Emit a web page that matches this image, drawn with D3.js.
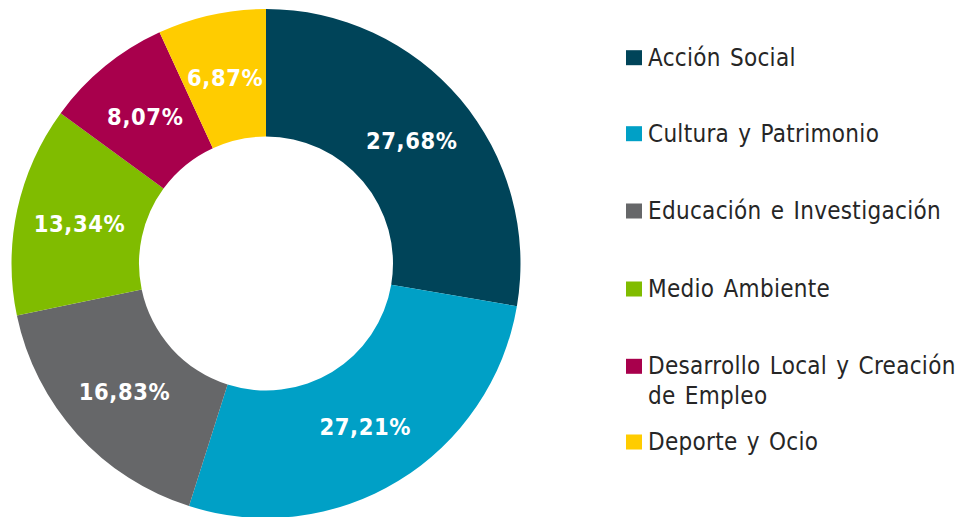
<!DOCTYPE html>
<html>
<head>
<meta charset="utf-8">
<script src="https://cdn.jsdelivr.net/npm/d3@7"></script>
<style>
  body { margin: 0; background: #fff; }
  svg { display: block; }
  .slice-label { font-family: "DejaVu Sans Condensed", "DejaVu Sans", sans-serif; font-stretch: condensed; font-weight: bold; font-size: 23.5px; fill: #fff; letter-spacing: 0.6px; }
  .legend text { font-family: "DejaVu Sans Condensed", "DejaVu Sans", sans-serif; font-stretch: condensed; font-size: 24px; fill: #262626; letter-spacing: 0.3px; word-spacing: 2px; }
</style>
</head>
<body>
<svg id="chart" width="967" height="517"></svg>
<script>
// sectors, clockwise from 12 o'clock
const categories = ["Acción Social", "Cultura y Patrimonio", "Educación e Investigación",
  "Medio Ambiente", "Desarrollo Local y Creación de Empleo", "Deporte y Ocio"];
const shares = [27.68, 27.21, 16.83, 13.34, 8.07, 6.87];
const labels = ["27,68%", "27,21%", "16,83%", "13,34%", "8,07%", "6,87%"];
// legend lines (long name wraps to two lines)
const legendLines = [["Acción Social"], ["Cultura y Patrimonio"], ["Educación e Investigación"],
  ["Medio Ambiente"], ["Desarrollo Local y Creación", "de Empleo"], ["Deporte y Ocio"]];
const colors = ["#004459", "#00a0c6", "#666769", "#80bc00", "#a8004c", "#ffcc00"];

const svg = d3.select("#chart");
const cx = 266, cy = 263.5, outerR = 254.5, innerR = 127;

const data = categories.map((c, i) => ({ name: c, value: shares[i], label: labels[i], color: colors[i] }));

const pie = d3.pie().value(d => d.value).sort(null);
const arc = d3.arc().innerRadius(innerR).outerRadius(outerR);

const g = svg.append("g").attr("transform", `translate(${cx},${cy})`);
const arcs = pie(data);

g.selectAll("path.slice")
  .data(arcs)
  .join("path")
  .attr("class", "slice")
  .attr("d", arc)
  .attr("fill", d => d.data.color);

g.selectAll("text.slice-label")
  .data(arcs)
  .join("text")
  .attr("class", "slice-label")
  .attr("transform", d => `translate(${arc.centroid(d)})`)
  .attr("text-anchor", "middle")
  .attr("dy", "0.38em")
  .text(d => d.data.label);

// legend, baselines
const baselines = [65.7, 141.7, 219, 297, 374.3, 450];
const leg = svg.append("g").attr("class", "legend");
const item = leg.selectAll("g")
  .data(data)
  .join("g")
  .attr("transform", (d, i) => `translate(626,${baselines[i]})`);

item.append("rect")
  .attr("x", 0).attr("y", -15.5)
  .attr("width", 16).attr("height", 15)
  .attr("fill", d => d.color);

item.append("text")
  .attr("x", 22)
  .selectAll("tspan")
  .data((d, i) => legendLines[i])
  .join("tspan")
  .attr("x", 22)
  .attr("dy", (d, j) => j === 0 ? 0 : 29.7)
  .text(d => d);
</script>
</body>
</html>
